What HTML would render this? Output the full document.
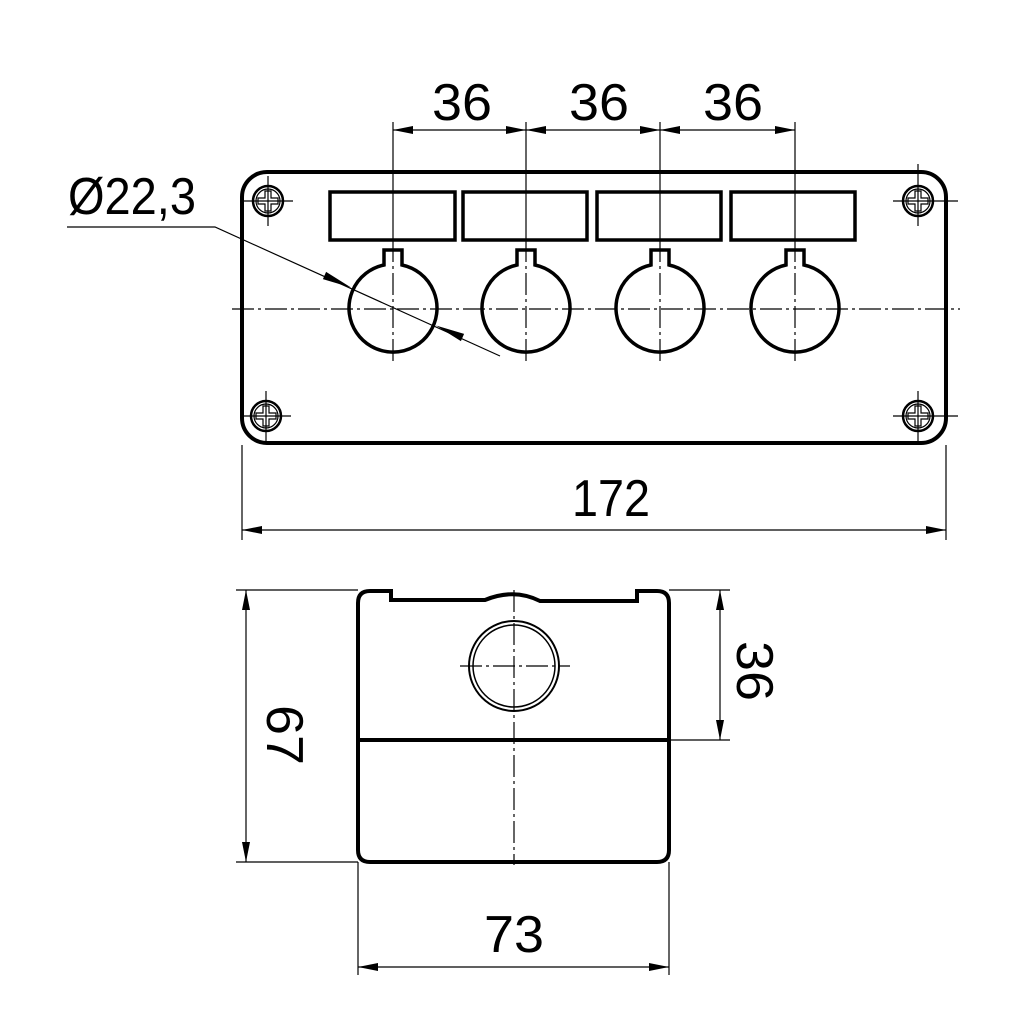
<!DOCTYPE html>
<html><head><meta charset="utf-8"><style>html,body{margin:0;padding:0;background:#fff}svg{display:block}</style></head>
<body>
<svg width="1024" height="1024" viewBox="0 0 1024 1024" xmlns="http://www.w3.org/2000/svg" font-family="Liberation Sans, sans-serif">
<defs>
<marker id="a" viewBox="0 0 20 8" refX="20" refY="4" markerWidth="20" markerHeight="8" markerUnits="userSpaceOnUse" orient="auto-start-reverse"><path d="M0,0 L20,4 L0,8z" fill="#000"/></marker>
</defs>
<g fill="none" stroke="#000">
<rect x="242" y="172" width="704" height="271" rx="25" stroke-width="4"/>
<g stroke-width="3.5">
<rect x="330" y="192" width="125" height="48"/>
<rect x="463" y="192" width="124" height="48"/>
<rect x="597" y="192" width="124" height="48"/>
<rect x="731" y="192" width="124" height="48"/>
</g>
<g stroke-width="3.5">
<path d="M384,265 A44,44 0 1 0 402,265 L402,250 L384,250 Z"/>
<path d="M517,265 A44,44 0 1 0 535,265 L535,250 L517,250 Z"/>
<path d="M651,265 A44,44 0 1 0 669,265 L669,250 L651,250 Z"/>
<path d="M786,265 A44,44 0 1 0 804,265 L804,250 L786,250 Z"/>
</g>
<g stroke-width="1.2" stroke-dasharray="22,4,3,4">
<line x1="232" y1="309" x2="960" y2="309"/>
<line x1="393" y1="240" x2="393" y2="362"/>
<line x1="526" y1="240" x2="526" y2="362"/>
<line x1="660" y1="240" x2="660" y2="362"/>
<line x1="795" y1="240" x2="795" y2="362"/>
</g>
<g stroke-width="1.2">
<line x1="393" y1="122" x2="393" y2="240"/>
<line x1="526" y1="122" x2="526" y2="240"/>
<line x1="660" y1="122" x2="660" y2="240"/>
<line x1="795" y1="122" x2="795" y2="240"/>
<line x1="393" y1="130" x2="526" y2="130" marker-start="url(#a)" marker-end="url(#a)"/>
<line x1="526" y1="130" x2="660" y2="130" marker-start="url(#a)" marker-end="url(#a)"/>
<line x1="660" y1="130" x2="795" y2="130" marker-start="url(#a)" marker-end="url(#a)"/>
<line x1="242" y1="445" x2="242" y2="540"/>
<line x1="946" y1="445" x2="946" y2="540"/>
<line x1="242" y1="530" x2="946" y2="530" marker-start="url(#a)" marker-end="url(#a)"/>
<polyline points="67,227 215,227 500,356"/>
</g>
<path d="M351,287.5 L322.9,279.1 L326.1,271.9Z" fill="#000" stroke="none"/>
<path d="M436,325.5 L460.9,341.1 L464.1,333.9Z" fill="#000" stroke="none"/>
<g stroke-width="1.2">
<g transform="translate(268,201)"><circle r="15" stroke-width="2.5"/><circle r="12"/><path d="M-3,-10 H3 V-3 H10 V3 H3 V10 H-3 V3 H-10 V-3 H-3Z"/><line x1="-25" x2="25"/><line y1="-25" y2="25"/></g>
<g transform="translate(918,201)"><circle r="15" stroke-width="2.5"/><circle r="12"/><path d="M-3,-10 H3 V-3 H10 V3 H3 V10 H-3 V3 H-10 V-3 H-3Z"/><line x1="-25" x2="40"/><line y1="-37" y2="25"/></g>
<g transform="translate(266,416)"><circle r="15" stroke-width="2.5"/><circle r="12"/><path d="M-3,-10 H3 V-3 H10 V3 H3 V10 H-3 V3 H-10 V-3 H-3Z"/><line x1="-25" x2="25"/><line y1="-25" y2="25"/></g>
<g transform="translate(918,416)"><circle r="15" stroke-width="2.5"/><circle r="12"/><path d="M-3,-10 H3 V-3 H10 V3 H3 V10 H-3 V3 H-10 V-3 H-3Z"/><line x1="-25" x2="40"/><line y1="-25" y2="25"/></g>
</g>

<path d="M358,603 Q358,591 370,591 L391,591 L391,600 L485,600 Q514,588 540,601 L637,601 L637,591 L657,591 Q669,591 669,603 L669,850 Q669,862 657,862 L370,862 Q358,862 358,850 Z" stroke-width="4"/>
<line x1="358" y1="740" x2="669" y2="740" stroke-width="4"/>
<circle cx="514" cy="666" r="45" stroke-width="2"/>
<circle cx="514" cy="666" r="41" stroke-width="1.5"/>
<g stroke-width="1.2" stroke-dasharray="22,4,3,4">
<line x1="514" y1="590" x2="514" y2="865"/>
<line x1="460" y1="666" x2="570" y2="666"/>
</g>
<g stroke-width="1.2">
<line x1="236" y1="590" x2="358" y2="590"/>
<line x1="236" y1="862" x2="358" y2="862"/>
<line x1="246" y1="590" x2="246" y2="862" marker-start="url(#a)" marker-end="url(#a)"/>
<line x1="669" y1="590" x2="730" y2="590"/>
<line x1="669" y1="740" x2="730" y2="740"/>
<line x1="720" y1="590" x2="720" y2="740" marker-start="url(#a)" marker-end="url(#a)"/>
<line x1="358" y1="862" x2="358" y2="975"/>
<line x1="669" y1="862" x2="669" y2="975"/>
<line x1="358" y1="967" x2="669" y2="967" marker-start="url(#a)" marker-end="url(#a)"/>
</g>
</g>
<g fill="#000" font-size="52">
<text x="68" y="214" textLength="128" lengthAdjust="spacingAndGlyphs">Ø22,3</text>
<text x="432" y="120" textLength="60" lengthAdjust="spacingAndGlyphs">36</text>
<text x="569" y="120" textLength="60" lengthAdjust="spacingAndGlyphs">36</text>
<text x="703" y="120" textLength="60" lengthAdjust="spacingAndGlyphs">36</text>
<text x="572" y="516" textLength="78" lengthAdjust="spacingAndGlyphs">172</text>
<text x="484" y="952" textLength="60" lengthAdjust="spacingAndGlyphs">73</text>
<text transform="translate(267,705) rotate(90)" textLength="60" lengthAdjust="spacingAndGlyphs">67</text>
<text transform="translate(737,641) rotate(90)" textLength="60" lengthAdjust="spacingAndGlyphs">36</text>
</g>
</svg>
</body></html>
